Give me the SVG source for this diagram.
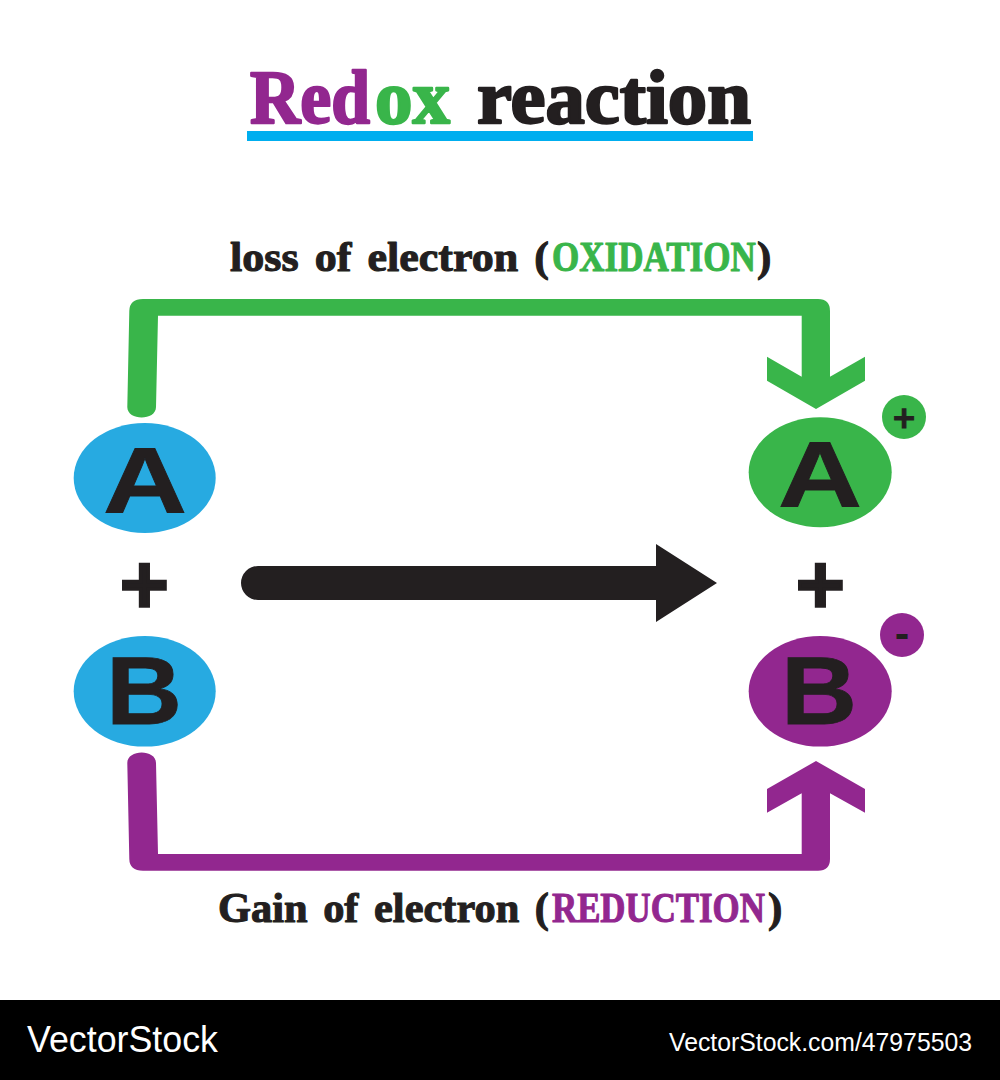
<svg xmlns="http://www.w3.org/2000/svg" width="1000" height="1080" viewBox="0 0 1000 1080">
<style>
.s{font-family:"Liberation Serif","DejaVu Serif",serif;font-weight:700;fill:#231f20;stroke:#231f20;stroke-linejoin:round}
.t{font-size:77px;stroke-width:2.4px}
.l{font-size:43px;stroke-width:1.1px}
.n{font-family:"Liberation Sans","DejaVu Sans",sans-serif;font-weight:700;fill:#231f20;text-anchor:middle}
.g{fill:#39b54a}.p{fill:#92278f}.b{fill:#27aae1}
.s.g,.s .g{fill:#39b54a;stroke:#39b54a}.s.p,.s .p{fill:#92278f;stroke:#92278f}
.w{font-family:"Liberation Sans",Arial,sans-serif;fill:#fff}
.big{font-size:92px;stroke:#231f20;stroke-width:.8px;text-anchor:start}
.bb{font-size:96px}
.pl{font-family:"DejaVu Sans",sans-serif;font-size:66px;stroke:#231f20;stroke-width:3.5px}
.ch{font-family:"DejaVu Sans",sans-serif;stroke:#231f20;stroke-width:1.2px}
</style>
<rect width="1000" height="1080" fill="#fff"/>
<g id="title">
<text class="s t" y="123"><tspan class="p" x="250" textLength="120" lengthAdjust="spacingAndGlyphs">Red</tspan><tspan class="g" x="375" textLength="75" lengthAdjust="spacingAndGlyphs">ox</tspan><tspan> </tspan><tspan x="477" textLength="274" lengthAdjust="spacingAndGlyphs">reaction</tspan></text>
<rect x="247" y="131" width="506" height="10" fill="#00aeef"/>
</g>
<g id="label-oxidation">
<text class="s l" x="230" y="271" textLength="319" lengthAdjust="spacingAndGlyphs" word-spacing="5">loss of electron (</text>
<text class="s l g" transform="translate(552 271) scale(.815 1)">OXIDATION</text>
<text class="s l" x="757" y="271">)</text>
</g>
<g id="label-reduction">
<text class="s l" x="218" y="922" textLength="331" lengthAdjust="spacingAndGlyphs" word-spacing="5">Gain of electron (</text>
<text class="s l p" transform="translate(552 922) scale(.81 1)">REDUCTION</text>
<text class="s l" x="768" y="922">)</text>
</g>
<g id="connectors">
<path class="g" d="M127.3 407L129.3 311Q129.5 299 143 299H818Q830 299 830 311V376.7L865 356.7V380.7L816 409L767 380.7V356.7L801.7 376.7V315.7H158L156 407C156 421 127.3 421 127.3 407Z"/>
<path class="p" d="M127.3 763L129.3 859Q129.5 870.7 143 870.7H818Q830 870.7 830 859V793.3L865 812.7V789L816 761L767 789V812.7L801.7 793.3V854H158L156 763C156 749 127.3 749 127.3 763Z"/>
<path fill="#231f20" d="M258 566H656V544L717 583L656 622V600H258A17 17 0 0 1 258 566Z"/>
</g>
<g id="node-a-left"><ellipse class="b" cx="144.7" cy="478" rx="71" ry="55"/><text class="n big" x="103" y="512" textLength="84" lengthAdjust="spacingAndGlyphs">A</text></g>
<g id="plus-left"><text class="n pl" x="144.5" y="606">+</text></g>
<g id="node-b-left"><ellipse class="b" cx="144.7" cy="691.3" rx="71" ry="55.3"/><text class="n big bb" x="106" y="724" textLength="76" lengthAdjust="spacingAndGlyphs">B</text></g>
<g id="node-a-right"><ellipse class="g" cx="820.2" cy="472.3" rx="71.5" ry="55"/><text class="n big" x="778" y="506" textLength="84" lengthAdjust="spacingAndGlyphs">A</text></g>
<g id="charge-plus"><circle class="g" cx="904" cy="417" r="22"/><text class="n ch" x="904" y="428" font-size="30">+</text></g>
<g id="plus-right"><text class="n pl" x="820.5" y="606">+</text></g>
<g id="node-b-right"><ellipse class="p" cx="820.2" cy="691.3" rx="71.5" ry="55.3"/><text class="n big bb" x="781" y="724" textLength="76" lengthAdjust="spacingAndGlyphs">B</text></g>
<g id="charge-minus"><circle class="p" cx="902" cy="635" r="22"/><text class="n" style="font-family:'DejaVu Sans',sans-serif" x="902" y="647" font-size="36">-</text></g>
<g id="watermark">
<rect y="1000" width="1000" height="80" fill="#000"/>
<text class="w" x="27" y="1052" font-size="36" textLength="191" lengthAdjust="spacingAndGlyphs">VectorStock</text>
<text class="w" x="669" y="1051" font-size="25" textLength="303" lengthAdjust="spacingAndGlyphs">VectorStock.com/47975503</text>
</g>
</svg>
